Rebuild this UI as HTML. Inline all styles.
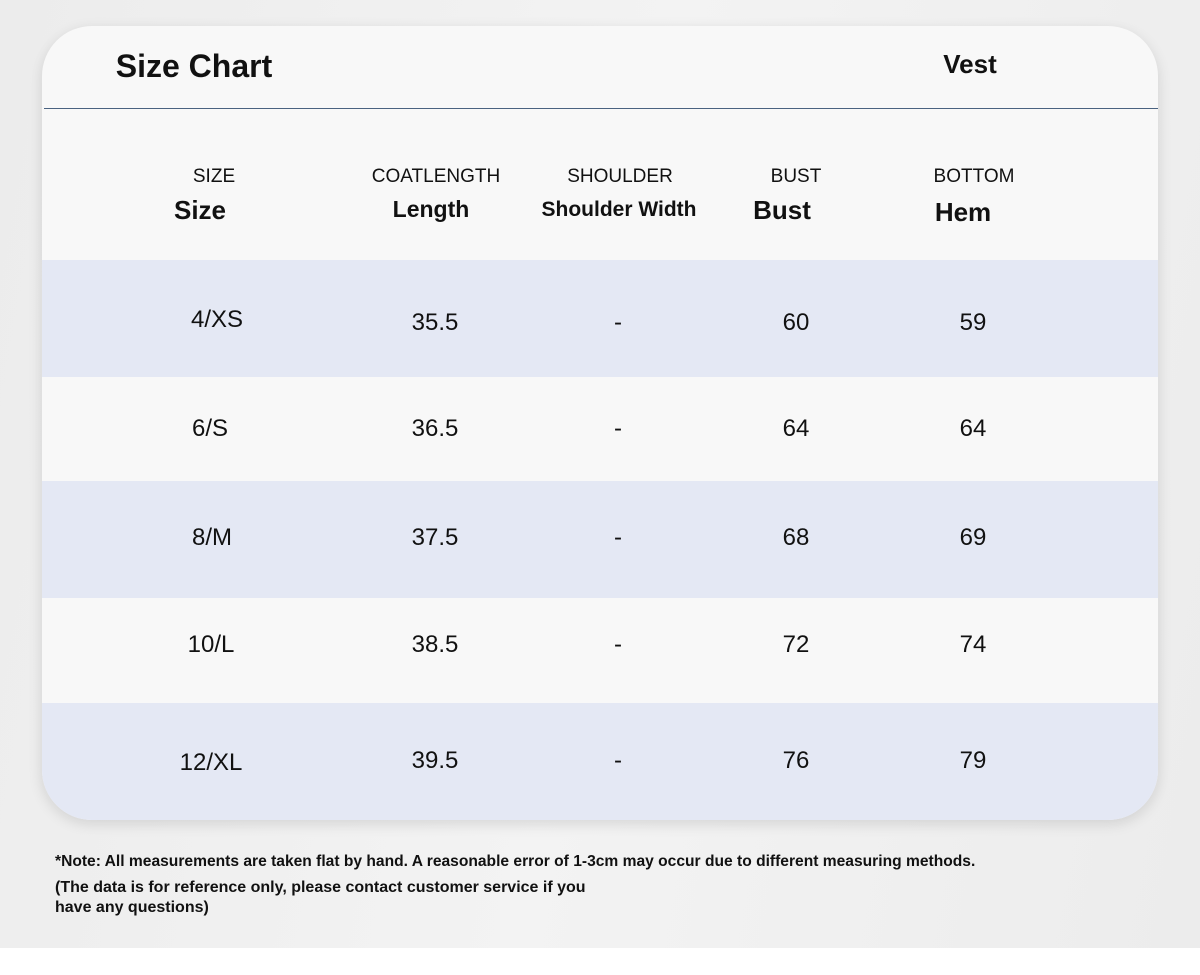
<!DOCTYPE html>
<html><head><meta charset="utf-8"><style>
body{margin:0;width:1200px;height:975px;background:#fff;position:relative;overflow:hidden;font-family:"Liberation Sans Narrow","Liberation Sans",sans-serif;color:#111}
.bg{position:absolute;left:0;top:0;width:1200px;height:948px;background:linear-gradient(100deg,#ececec,#f3f3f3 50%,#ececec)}
.card{position:absolute;left:42px;top:26px;width:1116px;height:794px;border-radius:50px;background:#f8f8f8;overflow:hidden;box-shadow:0 4px 14px rgba(0,0,0,.12)}
.band{position:absolute;left:0;width:1116px;background:#e4e8f4}
.line{position:absolute;left:2px;top:82px;width:1114px;height:1px;background:#4a6280}
.t{position:absolute;white-space:nowrap;transform:translateX(-50%)}
.h1{font-size:19px}
.h2{font-size:23px;font-weight:bold}
.v{font-size:24px}
.note{position:absolute;left:55px;font-weight:bold;font-size:15.6px;white-space:nowrap}
</style></head><body>
<div class="bg"></div>
<div class="card">
<div class="line"></div>
<div class="band" style="top:234px;height:117px"></div>
<div class="band" style="top:455px;height:117px"></div>
<div class="band" style="top:677px;height:117px"></div>
</div>
<div class="t" style="left:194px;top:48px;font-size:32px;font-weight:bold">Size Chart</div>
<div class="t" style="left:970px;top:49px;font-size:26px;font-weight:bold">Vest</div>
<div class="t h1" style="left:214px;top:166px">SIZE</div>
<div class="t h2" style="left:200px;top:195px;font-size:26px">Size</div>
<div class="t h1" style="left:436px;top:166px">COATLENGTH</div>
<div class="t h2" style="left:431px;top:196px">Length</div>
<div class="t h1" style="left:620px;top:166px">SHOULDER</div>
<div class="t h2" style="left:619px;top:198px;font-size:21px">Shoulder Width</div>
<div class="t h1" style="left:796px;top:166px">BUST</div>
<div class="t h2" style="left:782px;top:195px;font-size:26px">Bust</div>
<div class="t h1" style="left:974px;top:166px">BOTTOM</div>
<div class="t h2" style="left:963px;top:197px;font-size:26px">Hem</div>

<div class="t v" style="left:217px;top:306px">4/XS</div><div class="t v" style="left:435px;top:309px">35.5</div><div class="t v" style="left:618px;top:309px">-</div><div class="t v" style="left:796px;top:309px">60</div><div class="t v" style="left:973px;top:309px">59</div>
<div class="t v" style="left:210px;top:415px">6/S</div><div class="t v" style="left:435px;top:415px">36.5</div><div class="t v" style="left:618px;top:415px">-</div><div class="t v" style="left:796px;top:415px">64</div><div class="t v" style="left:973px;top:415px">64</div>
<div class="t v" style="left:212px;top:524px">8/M</div><div class="t v" style="left:435px;top:524px">37.5</div><div class="t v" style="left:618px;top:524px">-</div><div class="t v" style="left:796px;top:524px">68</div><div class="t v" style="left:973px;top:524px">69</div>
<div class="t v" style="left:211px;top:631px">10/L</div><div class="t v" style="left:435px;top:631px">38.5</div><div class="t v" style="left:618px;top:631px">-</div><div class="t v" style="left:796px;top:631px">72</div><div class="t v" style="left:973px;top:631px">74</div>
<div class="t v" style="left:211px;top:749px">12/XL</div><div class="t v" style="left:435px;top:747px">39.5</div><div class="t v" style="left:618px;top:747px">-</div><div class="t v" style="left:796px;top:747px">76</div><div class="t v" style="left:973px;top:747px">79</div>

<div class="note" style="top:853px">*Note: All measurements are taken flat by hand. A reasonable error of 1-3cm may occur due to different measuring methods.</div>
<div class="note" style="top:878px;font-size:16px;line-height:20px">(The data is for reference only, please contact customer service if you<br>have any questions)</div>
</body></html>
